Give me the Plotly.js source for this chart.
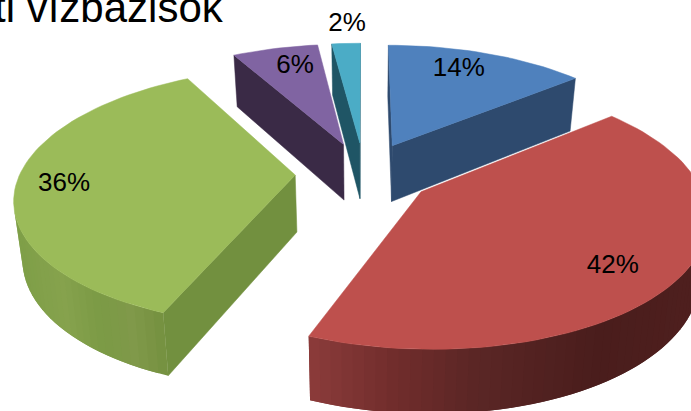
<!DOCTYPE html>
<html>
<head>
<meta charset="utf-8">
<script src="https://cdn.plot.ly/plotly-3.0.1.min.js"></script>
<style>html,body{margin:0;padding:0;background:#fff;overflow:hidden}#chart{width:691px;height:411px}</style>
</head>
<body>
<div id="chart"></div>
<script>
// Shares of each slice, clockwise from twelve o'clock
const shares = [14, 42, 36, 6, 2];
const labels = shares.map(v => v + '%');
const titleText = 'ti vízbázisok';

// Slice styling
const topColors = ['#4f81bd', '#be504d', '#9bbb59', '#8064a2', '#4bacc6'];
const wallColors = ['#2e4a6e', '#6e2e2c', '#72903f', '#3a2a46', '#1f5565'];
// Outer rim shading: [screen x, colour] stops
const rimStops = [
  [[0, '#2e4a6e'], [691, '#2e4a6e']],
  [[310, '#8b3b3a'], [400, '#6f2c2b'], [480, '#5a2625'], [600, '#4a1d1c'], [691, '#4e1f1e']],
  [[20, '#7f9f48'], [60, '#86a24d'], [100, '#7b9a45'], [130, '#80994a'], [165, '#74903f']],
  [[0, '#3a2a46'], [691, '#3a2a46']],
  [[0, '#1f5565'], [691, '#1f5565']]
];
// Label anchors on the pie's ground plane, in radius units: [across, towards viewer]
const labelAnchors = [[0.40, -0.984], [0.809, 0.651], [-1.078, 0.071], [-0.292, -1.017], [-0.077, -1.504]];
const labelDrop = 2.5;

// Perspective camera for the tilted disc
const view = {cx: 364, cy: 173, radius: 275, squash: 125, persp: 0.163, depth: 57, pull: 0.25};

function scaleAt(f) { return 1 / (1 - view.persp * f); }
function project(X, F) {
  const s = scaleAt(F);
  return [view.cx + X * view.radius * s, view.cy + view.squash * F * s, s];
}
function lower(p) {
  return [p[0] + (view.cx - p[0]) * 0.025, p[1] + view.depth * Math.pow(p[2], 0.6)];
}
function hex2rgb(h) { return [1, 3, 5].map(i => parseInt(h.substr(i, 2), 16)); }
function rimColor(stops, x) {
  if (x <= stops[0][0]) return stops[0][1];
  for (let i = 1; i < stops.length; i++) {
    if (x <= stops[i][0]) {
      const t = (x - stops[i - 1][0]) / (stops[i][0] - stops[i - 1][0]);
      const a = hex2rgb(stops[i - 1][1]), b = hex2rgb(stops[i][1]);
      return 'rgb(' + a.map((c, j) => Math.round(c + (b[j] - c) * t)).join(',') + ')';
    }
  }
  return stops[stops.length - 1][1];
}
function polyTrace(pts, color, edge) {
  return {
    x: pts.map(p => p[0]).concat(pts[0][0]),
    y: pts.map(p => p[1]).concat(pts[0][1]),
    mode: 'lines', fill: 'toself', fillcolor: color,
    line: {color: color, width: edge},
    hoverinfo: 'skip', showlegend: false
  };
}
function signedArea(quad) {
  let area = 0;
  quad.forEach((u, j) => {
    const w = quad[(j + 1) % quad.length];
    area += u[0] * w[1] - w[0] * u[1];
  });
  return area;
}

const total = shares.reduce((a, b) => a + b, 0);
const traces = [];
let start = 0;
shares.forEach((v, i) => {
  const a0 = start / total * 2 * Math.PI;
  const a1 = (start + v) / total * 2 * Math.PI;
  start += v;
  const mid = (a0 + a1) / 2;
  const ox = view.pull * Math.sin(mid), oy = -view.pull * Math.cos(mid);
  const apex = project(ox, oy);
  const n = Math.max(3, Math.round((a1 - a0) / (Math.PI / 90)));
  const rim = [];
  for (let k = 0; k <= n; k++) {
    const a = a0 + (a1 - a0) * k / n;
    rim.push(project(ox + Math.sin(a), oy - Math.cos(a)));
  }
  // Radial cut faces that look towards the viewer
  const ring = [apex].concat(rim);
  [[ring[0], ring[1]], [ring[ring.length - 1], ring[0]]].forEach(([p, q]) => {
    const quad = [p, q, lower(q), lower(p)];
    if (signedArea(quad) < 0) traces.push(polyTrace(quad, wallColors[i], 0.5));
  });
  // Rim bands overlap the following band so no seam shows between them
  for (let k = 0; k < n; k++) {
    const p = rim[k], q = rim[k + 1], r = rim[Math.min(k + 2, n)];
    if (signedArea([p, q, lower(q), lower(p)]) < 0) {
      traces.push(polyTrace([p, q, r, lower(r), lower(q), lower(p)],
        rimColor(rimStops[i], (p[0] + q[0]) / 2), 0));
    }
  }
  traces.push(polyTrace(ring, topColors[i], 0.5));
});

const labelPts = labelAnchors.map(a => project(a[0], a[1]));
traces.push({
  x: labelPts.map(p => p[0]), y: labelPts.map(p => p[1] + labelDrop),
  text: labels, mode: 'text', textposition: 'middle center',
  textfont: {family: 'Liberation Sans, Arial, sans-serif', size: 26, color: '#000'},
  hoverinfo: 'skip', showlegend: false, cliponaxis: false
});

const layout = {
  width: 691, height: 411,
  margin: {l: 0, r: 0, t: 0, b: 0},
  paper_bgcolor: '#fff', plot_bgcolor: '#fff',
  xaxis: {range: [0, 691], visible: false, fixedrange: true},
  yaxis: {range: [411, 0], visible: false, fixedrange: true},
  showlegend: false,
  annotations: [{
    text: titleText, xref: 'x', yref: 'y', x: 226, y: 33,
    xanchor: 'right', yanchor: 'bottom', showarrow: false,
    font: {family: 'Liberation Sans, Arial, sans-serif', size: 42, color: '#000'}
  }]
};
Plotly.newPlot('chart', traces, layout, {displayModeBar: false, staticPlot: true});
</script>
</body>
</html>
